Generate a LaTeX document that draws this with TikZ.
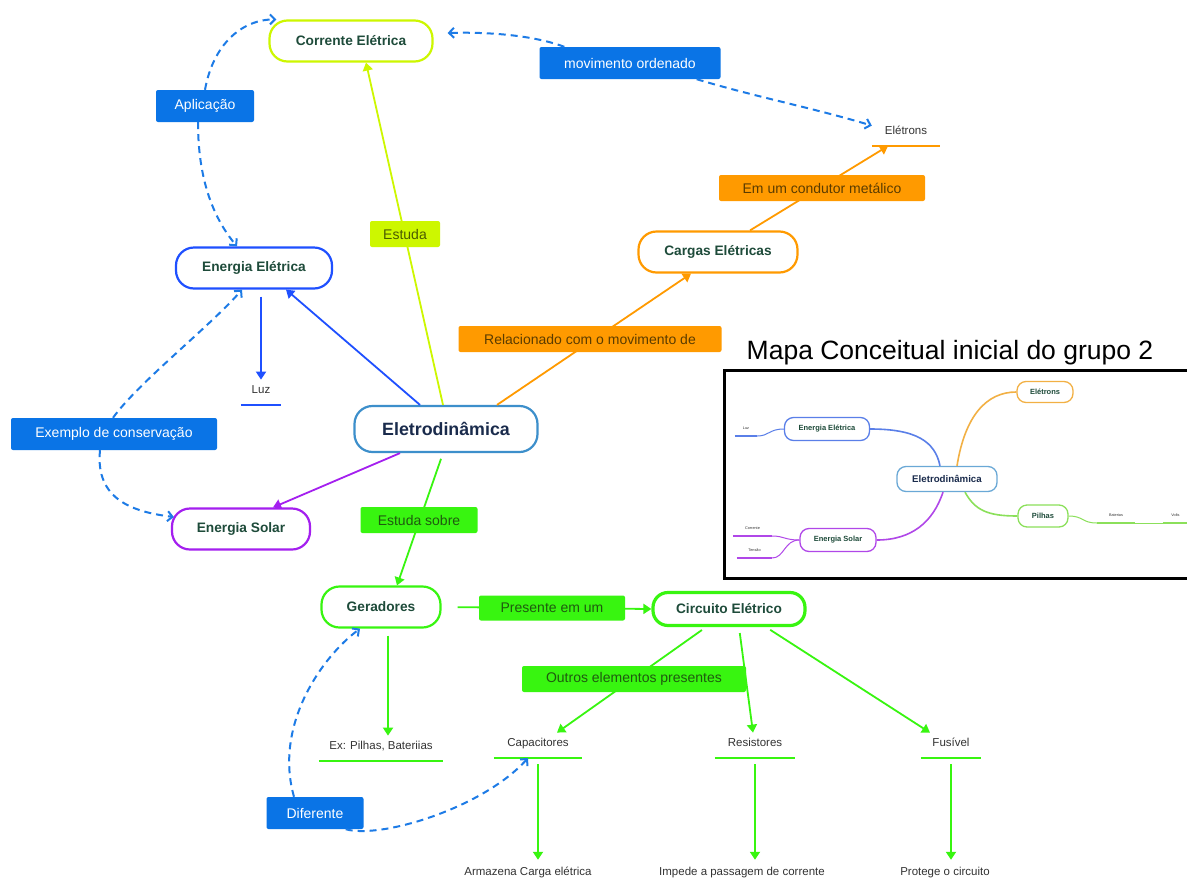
\documentclass[tikz,border=0pt]{standalone}
\usepackage{fontspec}
\setmainfont{Liberation Sans}
\usetikzlibrary{arrows.meta, positioning, calc}
\definecolor{LimeCol}{HTML}{CDF700}
\definecolor{OrangeCol}{HTML}{FF9A00}
\definecolor{BlueCol}{HTML}{1F50FF}
\definecolor{SteelCol}{HTML}{3D8FCB}
\definecolor{PurpleCol}{HTML}{A41FEF}
\definecolor{GreenCol}{HTML}{38F510}
\definecolor{BlueLab}{HTML}{0A74E6}
\definecolor{DashBlue}{HTML}{1D7BE6}
\definecolor{TopicText}{HTML}{1E4B3A}
\definecolor{NavyText}{HTML}{1A2B4C}
\definecolor{LeafText}{HTML}{333333}
\definecolor{OrangeText}{HTML}{5A3C00}
\definecolor{LimeText}{HTML}{4B5A00}
\definecolor{GreenText}{HTML}{1F5A0F}
\definecolor{InsetBlue}{HTML}{5A7FE8}
\definecolor{InsetOrange}{HTML}{F2B044}
\definecolor{InsetGreen}{HTML}{8BE05A}
\definecolor{InsetPurple}{HTML}{B047E8}
\definecolor{InsetSteel}{HTML}{6AA8D6}
\tikzset{
    topicbox/.style={rectangle, rounded corners=18pt, draw=#1, fill=white, line width=2.2pt,
        inner sep=0pt, text=TopicText, font=\fontsize{13.7}{16}\selectfont\bfseries},
    linkbox/.style={rectangle, rounded corners=2pt, fill=#1, inner sep=0pt,
        font=\fontsize{14}{16}\selectfont},
    bluelink/.style={linkbox=BlueLab, text=white, minimum height=32pt},
    orangelink/.style={linkbox=OrangeCol, text=OrangeText, minimum height=26pt},
    limelink/.style={linkbox=LimeCol, text=LimeText, minimum height=26pt},
    greenlink/.style={linkbox=GreenCol, text=GreenText, minimum height=26pt},
    leafnode/.style={anchor=south, inner sep=0pt, minimum width=#1, text height=14pt,
        text depth=11pt, text=LeafText, font=\fontsize{11.5}{13}\selectfont},
    endtext/.style={anchor=base, inner sep=0pt, text height=15pt, text=LeafText,
        font=\fontsize{11.5}{13}\selectfont},
    linkarrow/.style={draw=#1, line width=1.8pt, -{Triangle[length=8pt, width=10pt]}},
    dasharrow/.style={draw=DashBlue, line width=2pt, dash pattern=on 7pt off 5pt,
        -{Straight Barb[length=5pt, width=10pt]}},
    minibox/.style={rectangle, rounded corners=9pt, draw=#1, fill=white, line width=1.3pt,
        inner sep=0pt, text=TopicText, font=\fontsize{7.5}{9}\selectfont\bfseries},
    minileaf/.style={anchor=south, inner sep=0pt, minimum width=#1, text height=4pt,
        text depth=6pt, text=LeafText, font=\fontsize{3.8}{4.5}\selectfont},
    miniline/.style={draw=#1, line width=1.6pt},
}

\begin{document}
\begin{tikzpicture}[x=1pt, y=-1pt]
    \clip (0,0) rectangle (1187,884);
    \fill[white] (0,0) rectangle (1187,884);

    \node[topicbox=LimeCol, minimum width=163pt, minimum height=41pt] (corrente) at (351,41) {Corrente Elétrica};
    \node[topicbox=OrangeCol, minimum width=159pt, minimum height=41pt] (cargas) at (718,252) {Cargas Elétricas};
    \node[topicbox=BlueCol, minimum width=156pt, minimum height=41pt] (energel) at (254,268) {Energia Elétrica};
    \node[topicbox=SteelCol, minimum width=183pt, minimum height=46pt, text=NavyText,
        font=\fontsize{17.8}{20}\selectfont\bfseries] (eletro) at (446,429) {Eletrodinâmica};
    \node[topicbox=PurpleCol, minimum width=138pt, minimum height=41pt] (solar) at (241,529) {Energia Solar};
    \node[topicbox=GreenCol, minimum width=119pt, minimum height=41pt] (geradores) at (381,607) {Geradores};
    \node[topicbox=GreenCol, minimum width=152pt, minimum height=33pt, line width=3.2pt,
        rounded corners=15pt] (circuito) at (729,609) {Circuito Elétrico};

    \node[leafnode=40pt] (luz) at (261,405) {Luz};
    \node[leafnode=68pt] (eletrons) at (906,146) {Elétrons};
    \node[leafnode=124pt] (pilhas) at (381,761) {Ex: Pilhas, Bateriias};
    \node[leafnode=88pt] (capac) at (538,758) {Capacitores};
    \node[leafnode=80pt] (resist) at (755,758) {Resistores};
    \node[leafnode=60pt] (fusivel) at (951,758) {Fusível};
    \node[endtext] (armazena) at (528,875) {Armazena Carga elétrica};
    \node[endtext] (impede) at (742,875) {Impede a passagem de corrente};
    \node[endtext] (protege) at (945,875) {Protege o circuito};
    \foreach \leaf/\col in {luz/BlueCol, eletrons/OrangeCol, pilhas/GreenCol, capac/GreenCol,
        resist/GreenCol, fusivel/GreenCol}
        \draw[line width=2.5pt, \col] (\leaf.south west) -- (\leaf.south east);

    \draw[linkarrow=LimeCol] ([xshift=-3pt]eletro.north) -- ([xshift=15pt]corrente.south);
    \draw[linkarrow=BlueCol] ([xshift=-26pt]eletro.north) -- ([xshift=32pt]energel.south);
    \draw[linkarrow=BlueCol, shorten <=7pt] ([xshift=7pt]energel.south) -- (luz.north);
    \draw[linkarrow=OrangeCol] ([xshift=51pt]eletro.north) -- ([xshift=-27pt]cargas.south);
    \draw[linkarrow=OrangeCol] ([xshift=32pt]cargas.north) -- ([xshift=-18pt]eletrons.south);
    \draw[linkarrow=PurpleCol] ([xshift=-46pt]eletro.south) -- ([xshift=32pt]solar.north);
    \draw[linkarrow=GreenCol, shorten <=6pt] ([xshift=-3pt]eletro.south) -- ([xshift=16pt]geradores.north);
    \draw[linkarrow=GreenCol, shorten <=16pt] (geradores.east) -- (circuito.west);
    \draw[linkarrow=GreenCol, shorten <=7pt] ([xshift=7pt]geradores.south) -- ([xshift=7pt]pilhas.north);
    \draw[linkarrow=GreenCol, shorten <=5pt] ([xshift=-23pt]circuito.south) -- ([xshift=19pt]capac.north);
    \draw[linkarrow=GreenCol, shorten <=6pt] ([xshift=10pt]circuito.south) -- ([xshift=-2pt]resist.north);
    \draw[linkarrow=GreenCol, shorten <=5pt] ([xshift=37pt]circuito.south) -- ([xshift=-21pt]fusivel.north);
    \draw[linkarrow=GreenCol, shorten <=6pt] (capac.south) -- (capac.south |- armazena.north);
    \draw[linkarrow=GreenCol, shorten <=6pt] (resist.south) -- (resist.south |- impede.north);
    \draw[linkarrow=GreenCol, shorten <=6pt] (fusivel.south) -- (fusivel.south |- protege.north);

    \node[bluelink, minimum width=181pt] (movordem) at (630,63) {movimento ordenado};
    \node[bluelink, minimum width=98pt] (aplic) at (205,106) {Aplicação};
    \node[orangelink, minimum width=206pt] (condutor) at (822,188) {Em um condutor metálico};
    \node[limelink, minimum width=70pt] (estuda) at (405,234) {Estuda};
    \node[orangelink, minimum width=263pt] (relac) at (590,339) {Relacionado com o movimento de};
    \node[bluelink, minimum width=206pt] (exemplo) at (114,434) {Exemplo de conservação};
    \node[greenlink, minimum width=117pt] (estsobre) at (419,520) {Estuda sobre};
    \node[greenlink, minimum width=146pt, minimum height=25pt] (presente) at (552,608) {Presente em um};
    \node[greenlink, minimum width=224pt] (outros) at (634,679) {Outros elementos presentes};
    \node[bluelink, minimum width=97pt] (diferente) at (315,813) {Diferente};

    \draw[dasharrow] ([xshift=25pt]movordem.north west) .. controls +(-35,-13) and +(33,-1) .. ([xshift=14pt, yshift=8pt]corrente.east);
    \draw[dasharrow] ([xshift=-24pt]movordem.south east) .. controls +(60,18) and +(-60,-18) .. ([yshift=-5pt]eletrons.north west);
    \draw[dasharrow] (aplic.north) .. controls +(8,-45) and +(-35,0) .. ([xshift=8pt]corrente.north west);
    \draw[dasharrow] ([xshift=-7pt]aplic.south) .. controls +(0,55) and +(-25,-30) .. ([xshift=-17pt]energel.north);
    \draw[dasharrow] ([xshift=-1pt]exemplo.north) .. controls +(25,-35) and +(-30,35) .. ([xshift=-12pt]energel.south);
    \draw[dasharrow] ([xshift=-14pt]exemplo.south) .. controls +(-5,50) and +(-40,-5) .. ([xshift=3pt, yshift=12pt]solar.west);
    \draw[dasharrow] ([xshift=-21pt]diferente.north) .. controls +(-20,-70) and +(-40,30) .. ([xshift=-21pt]geradores.south);
    \draw[dasharrow] ([xshift=-18pt]diferente.south east) .. controls +(35,10) and +(-45,50) .. ([xshift=-10pt]capac.south);

    \node[font=\fontsize{26.5}{30}\selectfont] (insettitle) at (950,353) {Mapa Conceitual inicial do grupo 2};
    \draw[line width=3pt] (724,370) rectangle (1200,578);
    \node[minibox=InsetSteel, minimum width=100pt, minimum height=25pt, text=NavyText,
        font=\fontsize{9.7}{11}\selectfont\bfseries] (m_eletro) at (947,479) {Eletrodinâmica};
    \node[minibox=InsetBlue, minimum width=85pt, minimum height=23pt] (m_energel) at (827,429) {Energia Elétrica};
    \node[minibox=InsetOrange, minimum width=56pt, minimum height=21pt] (m_eletrons) at (1045,392) {Elétrons};
    \node[minibox=InsetGreen, minimum width=50pt, minimum height=22pt] (m_pilhas) at (1043,516) {Pilhas};
    \node[minibox=InsetPurple, minimum width=76pt, minimum height=23pt] (m_solar) at (838,540) {Energia Solar};
    \node[minileaf=22pt] (m_luz) at (746,436) {Luz};
    \node[minileaf=39pt] (m_corr) at (752.5,536) {Corrente};
    \node[minileaf=35pt] (m_tensao) at (754.5,558) {Tensão};
    \node[minileaf=38pt] (m_bater) at (1116,523) {Baterias};
    \node[minileaf=25pt] (m_volts) at (1175.5,523) {Volts};
    \foreach \leaf/\col in {m_luz/InsetBlue, m_corr/InsetPurple, m_tensao/InsetPurple,
        m_bater/InsetGreen, m_volts/InsetGreen}
        \draw[line width=2pt, \col] (\leaf.south west) -- (\leaf.south east);
    \draw[miniline=InsetBlue] (m_energel.east) .. controls +(45,0) and +(-5,-25) .. ([xshift=-7pt]m_eletro.north);
    \draw[miniline=InsetOrange] ([xshift=10pt]m_eletro.north) .. controls +(8,-50) and +(-30,0) .. (m_eletrons.west);
    \draw[miniline=InsetGreen] ([xshift=18pt]m_eletro.south) .. controls +(10,18) and +(-30,0) .. (m_pilhas.west);
    \draw[miniline=InsetPurple] ([xshift=-4pt]m_eletro.south) .. controls +(-10,30) and +(35,0) .. (m_solar.east);
    \draw[miniline=InsetBlue, line width=1pt] (m_energel.west) .. controls +(-15,0) and +(12,0) .. (m_luz.south east);
    \draw[miniline=InsetGreen, line width=1pt] (m_pilhas.east) .. controls +(15,0) and +(-15,0) .. (m_bater.south west);
    \draw[miniline=InsetGreen, line width=1pt] (m_bater.south east) -- (m_volts.south west);
    \draw[miniline=InsetPurple, line width=1pt] (m_solar.west) .. controls +(-15,0) and +(12,0) .. (m_corr.south east);
    \draw[miniline=InsetPurple, line width=1pt] (m_solar.west) .. controls +(-15,0) and +(12,0) .. (m_tensao.south east);
\end{tikzpicture}
\end{document}
